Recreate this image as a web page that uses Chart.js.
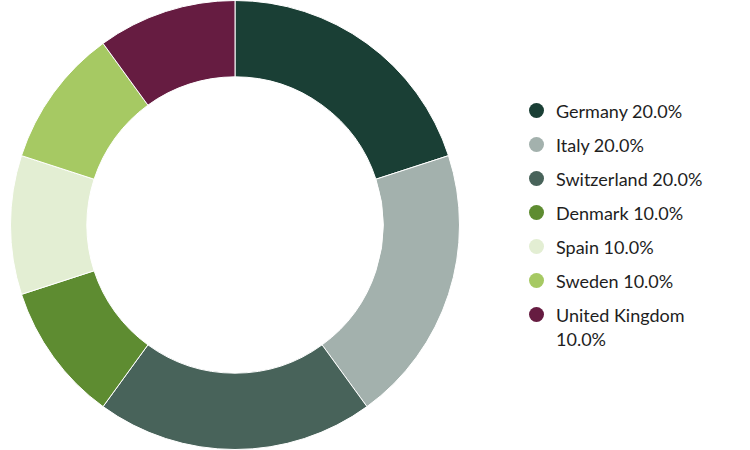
<!DOCTYPE html>
<html>
<head>
<meta charset="utf-8">
<script src="https://cdn.jsdelivr.net/npm/chart.js@4/dist/chart.umd.min.js"></script>
<style>
  html, body { margin: 0; padding: 0; background: #fff; }
  #wrap { position: relative; width: 750px; height: 450px; }
  #box { position: absolute; left: 0; top: 0; width: 470px; height: 450px; }
  #legend { position: absolute; left: 528px; top: 99px; width: 210px; font-family: Lato, sans-serif; font-size: 18px; color: #1e1e1e; }
  .item { position: relative; padding-left: 28px; line-height: 24px; margin-bottom: 10px; }
  .dot { position: absolute; left: 1px; top: 4px; width: 15px; height: 15px; border-radius: 50%; }
</style>
</head>
<body>
<div id="wrap">
  <div id="box"><canvas id="c"></canvas></div>
  <div id="legend"></div>
</div>
<script>
const countries = ['Germany', 'Italy', 'Switzerland', 'Denmark', 'Spain', 'Sweden', 'United Kingdom']
const shares    = [20, 20, 20, 10, 10, 10, 10]
const colors    = ['#1a3f35', '#a3b1ad', '#48635a', '#5e8c31', '#e3eed3', '#a6c963', '#661c41']

const total = shares.reduce((a, b) => a + b, 0)

const chart = new Chart(document.getElementById('c'), {
  type: 'doughnut',
  data: {
    labels: countries,
    datasets: [{
      data: shares,
      backgroundColor: colors,
      borderColor: '#ffffff',
      borderWidth: 1,
    }],
  },
  options: {
    responsive: true,
    maintainAspectRatio: false,
    animation: false,
    cutout: '66%',
    layout: { padding: 0 },
    plugins: {
      legend: { display: false },
      tooltip: { enabled: false },
    },
  },
})

// HTML legend so the long label can wrap
const legend = document.getElementById('legend')
countries.forEach((name, i) => {
  const row = document.createElement('div')
  row.className = 'item'
  const dot = document.createElement('span')
  dot.className = 'dot'
  dot.style.background = colors[i]
  row.appendChild(dot)
  const txt = document.createElement('span')
  txt.textContent = name + ' ' + (shares[i] / total * 100).toFixed(1) + '%'
  row.appendChild(txt)
  if (name === 'United Kingdom') row.style.width = '165px'
  legend.appendChild(row)
})
</script>
</body>
</html>
